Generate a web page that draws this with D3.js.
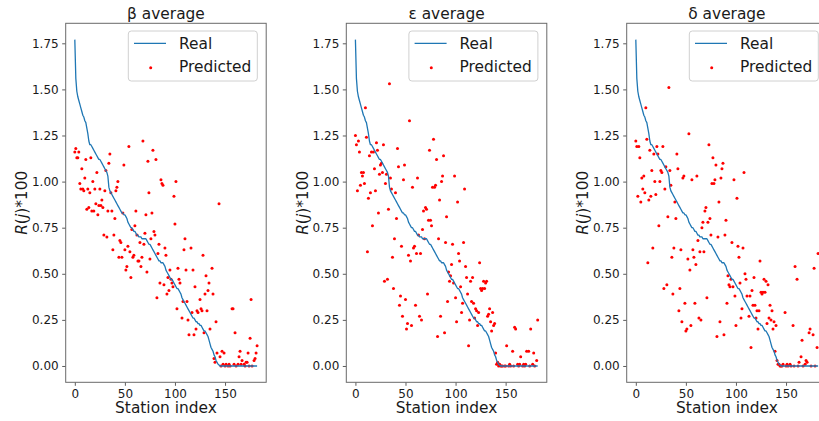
<!DOCTYPE html>
<html>
<head>
<meta charset="utf-8">
<script src="https://cdn.jsdelivr.net/npm/d3@7"></script>
<style>
  body { margin: 0; background: #fff; }
  svg { display: block; }
  text { font-family: "DejaVu Sans", sans-serif; fill: #1a1a1a; }
</style>
</head>
<body>
<svg id="chart" width="819" height="421"></svg>
<script>
// Measured R(j)*100 per station, sorted in descending order (station 0..182)
const realValues = [
  1.77, 1.56, 1.49, 1.46, 1.44, 1.42, 1.40, 1.38, 1.36, 1.35,
  1.33, 1.32, 1.29, 1.26, 1.22, 1.20, 1.20, 1.19, 1.18, 1.17,
  1.16, 1.15, 1.14, 1.13, 1.12, 1.12, 1.11, 1.10, 1.09, 1.08,
  1.07, 1.06, 1.05, 1.03, 0.97, 0.95, 0.94, 0.93, 0.92, 0.91,
  0.90, 0.89, 0.88, 0.87, 0.86, 0.85, 0.84, 0.83, 0.83, 0.82,
  0.82, 0.81, 0.80, 0.78, 0.77, 0.76, 0.75, 0.75, 0.74, 0.73,
  0.73, 0.72, 0.71, 0.71, 0.70, 0.70, 0.70, 0.69, 0.69, 0.69,
  0.69, 0.69, 0.68, 0.67, 0.66, 0.66, 0.65, 0.64, 0.63, 0.62,
  0.61, 0.60, 0.59, 0.58, 0.57, 0.57, 0.56, 0.56, 0.56, 0.55,
  0.54, 0.52, 0.51, 0.50, 0.49, 0.48, 0.47, 0.47, 0.46, 0.45,
  0.44, 0.43, 0.42, 0.42, 0.41, 0.40, 0.39, 0.37, 0.36, 0.35,
  0.34, 0.33, 0.32, 0.31, 0.30, 0.29, 0.28, 0.27, 0.26, 0.26,
  0.25, 0.24, 0.24, 0.23, 0.23, 0.22, 0.22, 0.21, 0.20, 0.19,
  0.19, 0.18, 0.17, 0.16, 0.14, 0.12, 0.10, 0.09, 0.08, 0.06,
  0.05, 0.03, 0.02, 0.01, 0.005, 0, 0, 0, 0, 0,
  0, 0, 0, 0, 0, 0, 0, 0, 0, 0,
  0, 0, 0, 0, 0, 0, 0, 0, 0, 0,
  0, 0, 0, 0, 0, 0, 0, 0, 0, 0,
  0, 0, 0
];

// Predicted values as [station index, R(j)*100]
const betaPredicted = [
  [0,1.16],[1,1.18],[2,1.13],[3,1.13],[4,1.16],[5,0.99],[6,0.96],[7,1.07],[8,0.96],[9,0.95],
  [10,1.02],[11,1.12],[12,0.85],[13,0.96],[14,0.86],[15,0.94],[16,1.13],[17,0.84],[18,1.00],[19,0.84],
  [20,0.96],[21,0.88],[22,1.05],[23,0.82],[24,0.87],[25,0.96],[26,0.87],[27,0.90],[28,0.86],[29,0.71],
  [30,0.95],[31,1.06],[32,0.70],[33,0.84],[34,1.10],[35,1.15],[36,0.94],[37,0.84],[38,0.63],[39,0.71],
  [40,0.80],[41,0.95],[42,0.97],[43,1.00],[44,0.59],[45,0.68],[46,0.67],[47,0.59],[48,0.83],[49,1.09],
  [50,0.63],[51,0.52],[52,0.54],[53,0.65],[54,1.19],[55,0.62],[56,0.48],[57,0.74],[58,0.59],[59,0.60],
  [60,0.76],[61,0.84],[62,0.71],[63,0.57],[64,0.57],[65,0.67],[66,0.54],[67,0.59],[68,1.22],[69,0.66],
  [70,0.72],[71,0.82],[72,0.51],[73,1.11],[74,0.94],[75,0.58],[76,0.69],[77,0.83],[78,1.17],[79,0.73],
  [80,0.71],[81,1.12],[82,0.37],[83,0.61],[84,0.66],[85,0.45],[86,1.01],[87,0.99],[88,0.98],[89,0.44],
  [90,0.64],[91,0.60],[92,0.39],[93,0.48],[94,0.41],[95,0.52],[96,0.47],[97,0.45],[98,0.43],[99,0.92],
  [100,0.77],[101,1.00],[102,0.31],[103,0.53],[104,0.47],[105,0.45],[107,0.26],[108,0.35],[109,0.63],
  [110,0.69],[111,0.52],[112,0.35],[113,0.25],[114,0.17],[116,0.64],[117,0.29],[118,0.52],[119,0.17],
  [120,0.43],[121,0.20],[122,0.30],[123,0.29],[125,0.36],[126,0.31],[127,0.30],[128,0.60],[129,0.18],
  [130,0.39],[131,0.49],[132,0.30],[133,0.41],[134,0.45],[135,0.20],[137,0.53],[138,0.39],[139,0.04],
  [140,0.02],[141,0.24],[142,0.07],[144,0.88],[145,0.05],[146,0.00],[147,0.08],[148,0.01],[149,0.07],
  [150,0.00],[151,0.01],[153,0.00],[154,0.01],[155,0.00],[157,0.31],[158,0.31],[159,0.01],[160,0.18],
  [161,0.00],[163,0.01],[164,0.05],[165,0.08],[166,0.01],[167,0.03],[169,0.01],[170,0.00],[171,0.02],
  [172,0.02],[173,0.07],[174,0.00],[175,0.15],[176,0.36],[177,0.00],[179,0.03],[180,0.04],[181,0.07],
  [182,0.11]
];

const epsilonPredicted = [
  [0,1.25],[1,1.20],[2,0.95],[3,1.22],[4,1.16],[5,0.98],[6,1.05],[7,1.03],[8,1.05],[9,0.99],
  [10,1.40],[11,1.24],[12,0.62],[13,0.91],[14,1.14],[15,0.94],[16,1.16],[17,0.76],[18,1.16],[19,1.07],
  [20,0.95],[21,1.21],[22,1.17],[23,0.83],[24,1.04],[25,1.09],[26,1.10],[27,1.05],[28,1.20],[29,0.46],
  [30,0.99],[31,1.04],[32,0.47],[33,0.85],[34,1.53],[35,1.02],[36,0.96],[37,0.59],[38,0.42],[39,0.69],
  [40,0.94],[41,0.80],[42,1.18],[43,1.08],[44,0.33],[45,0.38],[46,0.65],[47,0.27],[48,1.01],[49,1.09],
  [50,0.36],[51,0.20],[52,0.23],[53,0.60],[54,1.33],[55,0.57],[56,0.22],[57,0.97],[58,0.64],[59,0.65],
  [60,0.33],[61,0.61],[62,1.02],[63,0.71],[64,0.27],[65,0.61],[66,0.25],[67,0.74],[68,0.84],[69,0.69],
  [70,0.86],[71,0.85],[72,0.39],[73,0.79],[74,1.17],[75,0.79],[76,0.76],[77,0.97],[78,1.23],[79,0.97],
  [80,0.98],[81,1.12],[82,0.16],[83,0.69],[84,0.90],[85,0.27],[86,1.00],[87,1.03],[88,1.14],[89,0.18],
  [90,0.67],[91,0.81],[92,0.35],[93,0.51],[94,0.46],[95,0.49],[96,0.55],[97,0.66],[98,0.45],[99,1.03],
  [100,0.37],[101,0.24],[102,0.89],[103,0.61],[104,0.57],[105,0.43],[106,0.29],[107,0.34],[108,0.67],
  [109,0.96],[110,0.54],[111,0.48],[112,0.39],[113,0.11],[114,0.25],[115,0.46],[116,0.35],[117,0.48],
  [118,0.34],[119,0.26],[120,0.31],[121,0.30],[122,0.22],[123,0.29],[124,0.56],[125,0.42],[126,0.41],
  [127,0.42],[128,0.46],[129,0.42],[130,0.45],[131,0.46],[132,0.27],[133,0.28],[134,0.31],[135,0.24],
  [136,0.19],[137,0.29],[138,0.22],[139,0.23],[140,0.07],[141,0.01],[142,0.02],[143,0.00],[144,0.01],
  [145,0.00],[146,0.00],[147,0.00],[149,0.00],[150,0.00],[151,0.11],[153,0.00],[154,0.01],[155,0.00],
  [157,0.08],[158,0.00],[159,0.21],[160,0.20],[162,0.01],[163,0.00],[164,0.01],[165,0.05],[167,0.00],
  [168,0.01],[169,0.00],[170,0.01],[171,0.08],[173,0.08],[174,0.00],[175,0.20],[177,0.01],[178,0.07],
  [179,0.00],[181,0.03],[182,0.25]
];

const deltaPredicted = [
  [0,1.22],[1,1.19],[2,0.92],[3,1.19],[4,1.13],[5,0.89],[6,1.02],[7,0.96],[8,1.03],[9,0.94],
  [10,1.40],[11,1.23],[12,0.56],[13,0.90],[14,1.17],[15,0.92],[16,1.06],[17,0.64],[18,1.15],[19,1.00],
  [20,0.93],[21,1.19],[22,1.15],[23,0.76],[24,1.00],[25,1.06],[26,1.05],[27,1.19],[28,0.42],[29,0.96],
  [30,1.08],[31,0.44],[32,0.81],[33,1.51],[34,1.06],[35,0.98],[36,0.59],[37,0.39],[38,0.64],[39,0.89],
  [40,0.80],[41,1.15],[42,1.07],[43,0.30],[44,0.42],[45,0.63],[46,0.24],[47,1.02],[48,1.03],[49,0.34],
  [50,0.19],[51,0.20],[52,0.58],[53,1.26],[54,0.52],[55,0.22],[56,1.01],[57,0.63],[58,0.59],[59,0.34],
  [60,0.55],[61,1.03],[62,0.68],[63,0.26],[64,0.62],[65,0.25],[66,0.75],[67,0.78],[68,0.62],[69,0.84],
  [70,0.86],[71,0.37],[72,0.78],[73,1.20],[74,0.80],[75,0.71],[76,0.99],[77,1.13],[78,0.99],[79,1.01],
  [80,1.09],[81,0.16],[82,0.70],[83,0.89],[84,0.24],[85,1.02],[86,1.07],[87,1.10],[88,0.17],[89,0.71],
  [90,0.79],[91,0.34],[92,0.49],[93,0.44],[94,0.43],[95,0.47],[96,0.67],[97,0.43],[98,1.01],[99,0.38],
  [100,0.22],[101,0.91],[102,0.65],[103,0.59],[104,0.45],[105,0.26],[106,0.31],[107,0.64],[108,1.05],
  [109,0.50],[110,0.47],[111,0.38],[113,0.27],[114,0.38],[115,0.10],[116,0.41],[117,0.33],[118,0.48],
  [119,0.33],[120,0.26],[121,0.30],[122,0.20],[123,0.30],[124,0.57],[125,0.40],[126,0.39],[127,0.40],
  [128,0.47],[129,0.40],[130,0.46],[131,0.23],[132,0.44],[133,0.26],[134,0.33],[135,0.25],[136,0.30],
  [137,0.20],[138,0.24],[139,0.08],[140,0.22],[141,0.03],[142,0.01],[143,0.01],[144,0.00],[145,0.00],
  [146,0.00],[147,0.01],[149,0.29],[150,0.00],[151,0.01],[152,0.00],[154,0.01],[155,0.00],[157,0.22],
  [158,0.00],[159,0.54],[161,0.47],[162,0.00],[163,0.02],[165,0.05],[166,0.14],[167,0.00],[169,0.01],
  [170,0.03],[171,0.02],[173,0.18],[174,0.20],[175,0.00],[177,0.17],[178,0.53],[179,0.00],[181,0.10],
  [182,0.61]
];

const panelTitles = ["β average", "ε average", "δ average"];
const xTickValues = [0, 50, 100, 150];
const yTickValues = [0, 0.25, 0.5, 0.75, 1.0, 1.25, 1.5, 1.75];
const legendLabels = ["Real", "Predicted"];

// ---- layout ----
const svg = d3.select("#chart");
const panelLefts = [65.7, 346.3, 626.7];
const plotW = 200.5, plotTop = 23.3, plotH = 359;
const lineColor = "#1f77b4", dotColor = "#ff0000";
const bigFont = 15.4, tickFont = 12;
const lineWidth = 1.3, dotRadius = 1.5;

// Matplotlib-style 5% padding around the data extent
function padded(extent) {
  const span = extent[1] - extent[0];
  return [extent[0] - 0.05 * span, extent[1] + 0.05 * span];
}

const predictedSets = [betaPredicted, epsilonPredicted, deltaPredicted];

predictedSets.forEach((pred, i) => {
  const left = panelLefts[i];
  const g = svg.append("g").attr("transform", `translate(${left},${plotTop})`);

  const xExt = [0, realValues.length - 1];
  const yExt = d3.extent(realValues.concat(pred.map(d => d[1])));
  const x = d3.scaleLinear().domain(padded(xExt)).range([0, plotW]);
  const y = d3.scaleLinear().domain(padded(yExt)).range([plotH, 0]);

  const clipId = "clip" + i;
  g.append("clipPath").attr("id", clipId)
    .append("rect").attr("width", plotW).attr("height", plotH);

  const plot = g.append("g").attr("clip-path", `url(#${clipId})`);

  // predicted scatter
  plot.selectAll("circle").data(pred).join("circle")
    .attr("cx", d => x(d[0]))
    .attr("cy", d => y(d[1]))
    .attr("r", dotRadius)
    .attr("fill", dotColor);

  // real curve
  plot.append("path")
    .datum(realValues)
    .attr("fill", "none")
    .attr("stroke", lineColor)
    .attr("stroke-width", lineWidth)
    .attr("stroke-linejoin", "round")
    .attr("d", d3.line().x((d, k) => x(k)).y(d => y(d)));

  // axes
  const yAxis = d3.axisLeft(y).tickValues(yTickValues)
    .tickFormat(d3.format(".2f")).tickSize(3.5).tickPadding(3.5);
  const xAxis = d3.axisBottom(x).tickValues(xTickValues)
    .tickFormat(d3.format("d")).tickSize(3.5).tickPadding(3.5);

  const ya = g.append("g").call(yAxis);
  const xa = g.append("g").attr("transform", `translate(0,${plotH})`).call(xAxis);
  [ya, xa].forEach(a => {
    a.select(".domain").remove();
    a.selectAll(".tick line").attr("stroke", "#333").attr("stroke-width", 0.8);
    a.selectAll(".tick text")
      .attr("font-family", "DejaVu Sans, sans-serif")
      .attr("font-size", tickFont)
      .attr("fill", "#1a1a1a");
  });

  // frame
  g.append("rect")
    .attr("width", plotW).attr("height", plotH)
    .attr("fill", "none").attr("stroke", "#6a6a6a").attr("stroke-width", 1);

  // title
  g.append("text")
    .attr("x", plotW / 2).attr("y", 18.5 - plotTop)
    .attr("text-anchor", "middle")
    .attr("font-size", bigFont)
    .text(panelTitles[i]);

  // x label
  g.append("text")
    .attr("x", plotW / 2).attr("y", 413.5 - plotTop)
    .attr("text-anchor", "middle")
    .attr("font-size", bigFont)
    .text("Station index");

  // y label: R(j)*100 with italic math symbols
  const yl = g.append("text")
    .attr("transform", `translate(-38.7,${plotH / 2}) rotate(-90)`)
    .attr("text-anchor", "middle")
    .attr("font-size", bigFont);
  yl.append("tspan").attr("font-style", "italic").text("R");
  yl.append("tspan").text("(");
  yl.append("tspan").attr("font-style", "italic").text("j");
  yl.append("tspan").text(")*100");

  // legend
  const lg = g.append("g").attr("transform", `translate(62.6,${31 - plotTop})`);
  lg.append("rect")
    .attr("width", 129).attr("height", 50).attr("rx", 3)
    .attr("fill", "#fff").attr("fill-opacity", 0.8)
    .attr("stroke", "#d0d0d0").attr("stroke-width", 1);
  lg.append("line")
    .attr("x1", 5.7).attr("x2", 37.7).attr("y1", 12.3).attr("y2", 12.3)
    .attr("stroke", lineColor).attr("stroke-width", lineWidth);
  lg.append("circle")
    .attr("cx", 22.4).attr("cy", 36.7).attr("r", dotRadius).attr("fill", dotColor);
  lg.append("text").attr("x", 50.7).attr("y", 18).attr("font-size", bigFont).text(legendLabels[0]);
  lg.append("text").attr("x", 50.7).attr("y", 40.7).attr("font-size", bigFont).text(legendLabels[1]);
});
</script>
</body>
</html>
